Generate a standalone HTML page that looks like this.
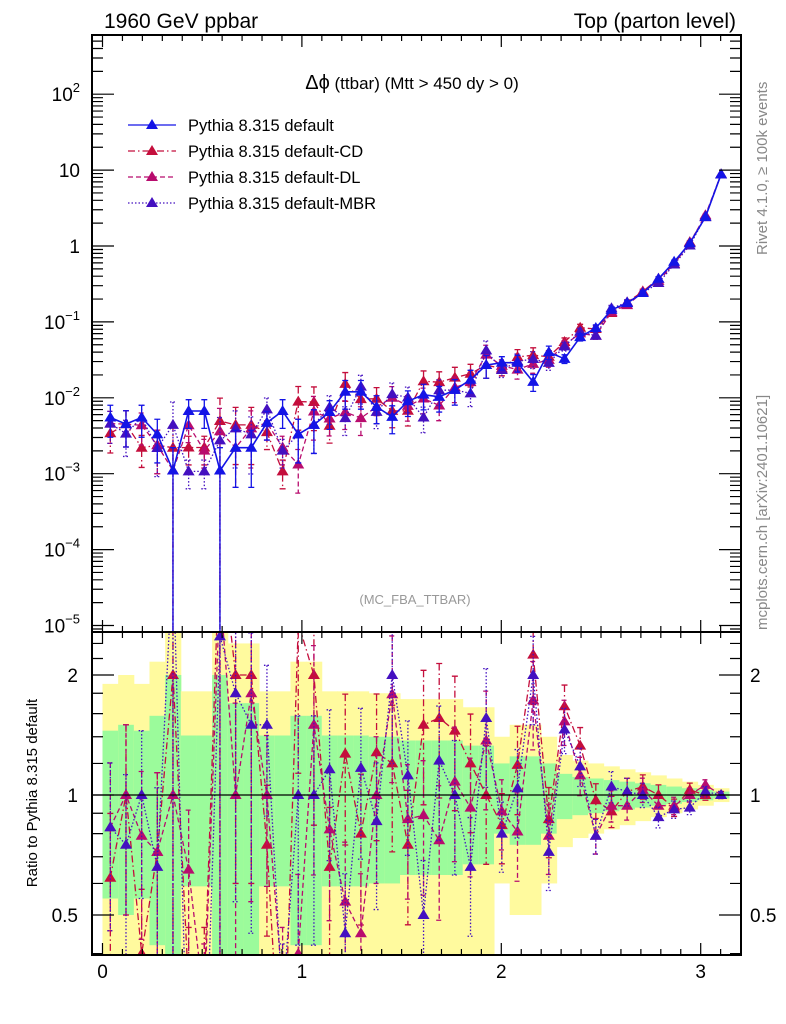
<!DOCTYPE html>
<html><head><meta charset="utf-8"><style>
html,body{margin:0;padding:0;background:#fff;overflow:hidden;width:786px;height:1024px;}
svg{display:block;font-family:"Liberation Sans",sans-serif;}
</style></head><body>
<svg id="c" width="786" height="1024" viewBox="0 0 786 1024">
<defs>
<clipPath id="cm"><rect x="92" y="35" width="649" height="597"/></clipPath>
<clipPath id="cr"><rect x="92" y="632" width="649" height="323"/></clipPath>
</defs>
<g id="bands" clip-path="url(#cr)"></g>
<g id="mainMarks" clip-path="url(#cm)"></g>
<g id="ratioMarks" clip-path="url(#cr)"></g>
<g id="axes"></g>
<text x="104" y="28" font-size="21">1960 GeV ppbar</text>
<text x="736" y="28" font-size="21" text-anchor="end">Top (parton level)</text>
<text x="412" y="89" font-size="17" text-anchor="middle"><tspan font-size="20">Δϕ</tspan> (ttbar) (Mtt &gt; 450 dy &gt; 0)</text>
<text x="415" y="604" font-size="13" fill="#999" text-anchor="middle">(MC_FBA_TTBAR)</text>
<text transform="translate(767,255) rotate(-90)" font-size="15" fill="#888">Rivet 4.1.0, ≥ 100k events</text>
<text transform="translate(767,630) rotate(-90)" font-size="15" fill="#888">mcplots.cern.ch [arXiv:2401.10621]</text>
<text transform="translate(37,793) rotate(-90)" font-size="15" text-anchor="middle">Ratio to Pythia 8.315 default</text>
<g id="legend"></g>
</svg>
<script>
const binCount = 40;
const xMaxData = Math.PI;
const defaultVals = [5.5e-3,4.5e-3,5.5e-3,3.3e-3,1.1e-3,6.7e-3,6.7e-3,1.1e-3,2.2e-3,2.2e-3,4.7e-3,6.7e-3,3.3e-3,4.4e-3,6.5e-3,1.2e-2,1.2e-2,7.6e-3,5.6e-3,9e-3,1.1e-2,1.03e-2,1.27e-2,1.73e-2,2.7e-2,2.9e-2,2.9e-2,1.62e-2,4.0e-2,3.26e-2,6.3e-2,8.3e-2,0.144,0.177,0.24,0.37,0.62,1.09,2.4,8.8];
const ratioCD = [0.62,1.0,0.4,0.72,2.0,0.33,0.33,4.5,2.0,2.0,0.75,0.16,2.7,2.0,0.66,1.27,0.8,1.28,1.2,0.75,1.5,1.56,1.45,1.2,1.0,0.84,1.19,2.25,0.87,1.67,1.33,0.97,0.91,1.02,1.05,1.0,0.93,1.03,1.0,1.0];
const ratioDL = [0.83,1.0,0.79,0.72,1.0,0.65,0.3,3.3,1.0,1.8,1.0,0.33,0.4,1.5,0.82,0.54,0.45,1.0,1.79,0.87,0.89,0.77,1.08,0.93,1.37,0.91,0.81,1.73,0.79,1.53,1.12,0.79,0.94,0.94,1.03,0.94,0.94,1.0,1.06,1.0];
const ratioMBR = [0.83,0.75,1.0,0.66,4.0,0.16,0.16,2.5,1.8,1.5,1.5,0.3,1.0,1.0,1.16,0.45,1.17,0.86,2.0,1.12,0.5,1.22,1.0,0.66,1.56,0.8,1.04,2.0,0.72,1.46,1.18,0.79,1.05,1.02,1.0,0.88,0.92,0.93,1.02,1.0];
const relErr = [0.45,0.5,0.45,0.58,1.0,0.41,0.41,1.0,0.7,0.7,0.41,0.41,0.58,0.58,0.41,0.41,0.41,0.4,0.4,0.37,0.37,0.37,0.37,0.33,0.33,0.2,0.25,0.25,0.2,0.13,0.11,0.1,0.09,0.08,0.07,0.06,0.05,0.04,0.03,0.02];
const xTickLabels = ["0","1","2","3"];
const mainTickExps = [-5,-4,-3,-2,-1,0,1,2];
const ratioTickVals = [0.5,1,2];
const ratioTickLabels = ["0.5","1","2"];
const legendLabels = ["Pythia 8.315 default","Pythia 8.315 default-CD","Pythia 8.315 default-DL","Pythia 8.315 default-MBR"];

const NS="http://www.w3.org/2000/svg";
const L=92,R=741,T=35,MB=632,RB=955;
const X=v=>102.5+v*199.4;
const YM=v=>{const lv=Math.log10(Math.max(v,1e-9));return 246-lv*75.9;};
const YR=r=>795-Math.log2(Math.max(r,1e-6))*120;
function el(tag,attrs,parent){const e=document.createElementNS(NS,tag);for(const k in attrs)e.setAttribute(k,attrs[k]);parent.appendChild(e);return e;}
const bw=xMaxData/binCount;
const cx=i=>X((i+0.5)*bw);

const bands=document.getElementById('bands');
for(let i=0;i<binCount;i++){
  const x0=X(i*bw),x1=X((i+1)*bw);
  const e=relErr[i];
  const y=el('rect',{x:x0,y:YR(1+2*e),width:x1-x0+0.5,height:YR(Math.max(1-2*e,0.01))-YR(1+2*e),fill:'#fffa9e'},bands);
  
  
  const g=el('rect',{x:x0,y:YR(1+e),width:x1-x0+0.5,height:YR(Math.max(1-e,0.01))-YR(1+e),fill:'#9bfb9b'},bands);
  
  
}

const series=[
 {name:'default',vals:defaultVals,ratio:null,color:'#1414e6',dash:''},
 {name:'cd',vals:defaultVals.map((v,i)=>v*ratioCD[i]),ratio:ratioCD,color:'#c40e3c',dash:'7,3,1.5,3'},
 {name:'dl',vals:defaultVals.map((v,i)=>v*ratioDL[i]),ratio:ratioDL,color:'#b80c6e',dash:'5,3'},
 {name:'mbr',vals:defaultVals.map((v,i)=>v*ratioMBR[i]),ratio:ratioMBR,color:'#4410c0',dash:'1.5,2'}
];
function tri(parent,x,y,c,name){
  const p=el('polygon',{points:`${x},${y-6} ${x-6},${y+4} ${x+6},${y+4}`,fill:c},parent);
  
  
}
const mm=document.getElementById('mainMarks');
const rm=document.getElementById('ratioMarks');
[1,2,3,0].forEach(si=>{
  const s=series[si];
  const g=el('g',{},mm);
  
  
  let d='';
  s.vals.forEach((v,i)=>{d+=(i?'L':'M')+cx(i).toFixed(1)+','+YM(v).toFixed(1);});
  const ln=el('path',{d:d,fill:'none',stroke:s.color,'stroke-width':si==0?1.6:1.3,'stroke-dasharray':s.dash},g);
  
  
  s.vals.forEach((v,i)=>{
    const e=relErr[i];
    const yt=YM(v*(1+e)), yb=(1-e)<=0.001?MB+5:YM(v*(1-e));
    const eb=el('path',{d:`M${cx(i)},${yt}V${yb}M${cx(i)-3},${yt}h6M${cx(i)-3},${yb}h6`,stroke:s.color,'stroke-width':1.3,'stroke-dasharray':s.dash,fill:'none'},g);
    
    
    tri(g,cx(i),YM(v),s.color,'point-'+s.name);
  });
  if(s.ratio){
    const gr=el('g',{},rm);
    
    
    let d2='';
    s.ratio.forEach((r,i)=>{d2+=(i?'L':'M')+cx(i).toFixed(1)+','+YR(r).toFixed(1);});
    const l2=el('path',{d:d2,fill:'none',stroke:s.color,'stroke-width':1.3,'stroke-dasharray':s.dash},gr);
    
    
    s.ratio.forEach((r,i)=>{
      const e=relErr[i];
      const yt=YR(r*(1+e)), yb=(1-e)<=0.001?RB+5:YR(r*(1-e));
      const eb=el('path',{d:`M${cx(i)},${yt}V${yb}M${cx(i)-3},${yt}h6M${cx(i)-3},${yb}h6`,stroke:s.color,'stroke-width':1.3,'stroke-dasharray':s.dash,fill:'none'},gr);
      
      
      tri(gr,cx(i),YR(r),s.color,'ratio-point-'+s.name);
    });
  }
});
const one=el('line',{x1:L,x2:R,y1:YR(1),y2:YR(1),stroke:'#000','stroke-width':1.3},rm);



const ax=document.getElementById('axes');
const f1=el('rect',{x:L,y:T,width:R-L,height:MB-T,fill:'none',stroke:'#000','stroke-width':2},ax);


const f2=el('rect',{x:L,y:MB,width:R-L,height:RB-MB,fill:'none',stroke:'#000','stroke-width':2},ax);


let tk='';
for(let k=0;k<=31;k++){
  const v=k*0.1,x=X(v);if(x>R)break;
  const len=(k%10==0)?12:6;
  tk+=`M${x},${T}v${len}M${x},${MB}v${-len}M${x},${MB}v${len}M${x},${RB}v${-len}`;
}
for(let ex=-6;ex<=2;ex++){
  for(let m=1;m<10;m++){
    const y=YM(m*Math.pow(10,ex));if(y<T||y>MB)continue;
    const len=m==1?22:11;
    tk+=`M${L},${y}h${len}M${R},${y}h${-len}`;
  }
}
[0.4,0.5,0.6,0.7,0.8,0.9,1,1.2,1.4,1.6,1.8,2,2.2,2.4].forEach(r=>{
  const y=YR(r);const len=(r==0.5||r==1||r==2)?22:11;
  tk+=`M${L},${y}h${len}M${R},${y}h${-len}`;
});
const tp=el('path',{d:tk,stroke:'#000','stroke-width':1.2,fill:'none'},ax);


xTickLabels.forEach((s,i)=>{
  const t=el('text',{x:X(i),y:978,'font-size':19,'text-anchor':'middle'},ax);
  t.textContent=s;
  
  
});
mainTickExps.forEach(ex=>{
  const y=YM(Math.pow(10,ex))+7;
  const t=el('text',{x:80,y:y,'font-size':19,'text-anchor':'end'},ax);
  
  
  if(ex==0)t.textContent='1';
  else if(ex==1)t.textContent='10';
  else{t.textContent='10';const s=el('tspan',{dy:-9,'font-size':13},t);s.textContent=String(ex).replace('-','−');}
});
ratioTickVals.forEach((r,i)=>{
  ['left','right'].forEach(side=>{
    const t=el('text',{x:side=='left'?78:750,y:YR(r)+7,'font-size':19,'text-anchor':side=='left'?'end':'start'},ax);
    t.textContent=ratioTickLabels[i];
    
    
  });
});
const lg=document.getElementById('legend');
series.forEach((s,i)=>{
  const y=125+i*26;
  const g=el('g',{},lg);
  
  
  el('line',{x1:128,x2:176,y1:y,y2:y,stroke:s.color,'stroke-width':1.3,'stroke-dasharray':s.dash},g);
  tri(g,152,y,s.color,'legend-marker');
  const t=el('text',{x:188,y:y+6,'font-size':16.5},g);
  t.textContent=legendLabels[i];
});
</script>
</body></html>
